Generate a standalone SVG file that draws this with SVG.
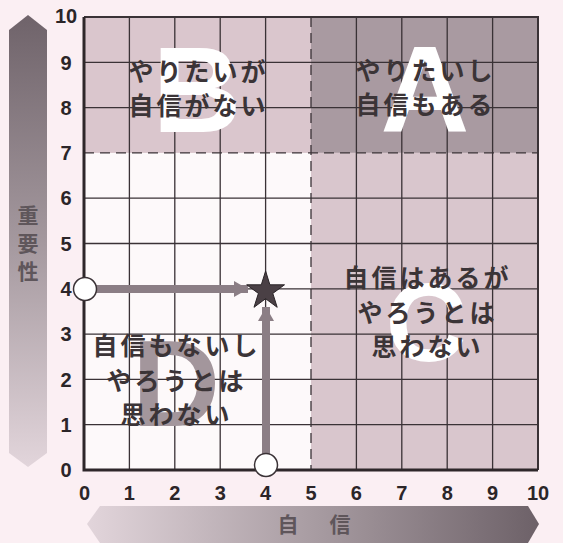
<svg xmlns="http://www.w3.org/2000/svg" width="563" height="543" viewBox="0 0 563 543">
<defs>
<linearGradient id="gv" x1="0" y1="0" x2="0" y2="1">
<stop offset="0" stop-color="#6f636a"/>
<stop offset="0.5" stop-color="#a4989e"/>
<stop offset="1" stop-color="#e2d5db"/>
</linearGradient>
<linearGradient id="gh" x1="0" y1="0" x2="1" y2="0">
<stop offset="0" stop-color="#e2d5db"/>
<stop offset="0.5" stop-color="#a89ca2"/>
<stop offset="1" stop-color="#6d6168"/>
</linearGradient>
<marker id="ah" markerUnits="userSpaceOnUse" markerWidth="16" markerHeight="18" refX="14" refY="9" orient="auto">
<path d="M0,1 L14,9 L0,17 Z" fill="#8b7e85"/>
</marker>
<style>
.grid{stroke:#3a3236;stroke-width:1.3;fill:none}
.dash{stroke:#3a3236;stroke-width:1.3;stroke-dasharray:10 6;fill:none}
.tick{font-family:"Liberation Sans",Arial,sans-serif;font-weight:bold;font-size:20px;fill:#2b2528;text-anchor:middle}
.big{font-family:"Liberation Sans",Arial,sans-serif;font-weight:bold;text-anchor:middle}
.jp{font-family:"Noto Sans CJK JP",sans-serif;font-weight:bold;font-size:25px;fill:#3b3437;text-anchor:middle;letter-spacing:3px}
.ax{font-family:"Noto Sans CJK JP",sans-serif;font-weight:bold;font-size:21px;fill:#5f565b;text-anchor:middle}
.conn{stroke:#8b7e85;stroke-width:8;fill:none}
</style>
</defs>
<rect width="563" height="543" fill="#fbeff3"/>

<g id="axis-importance">
<polygon points="9,30 28,15 47,30 47,453 28,467 9,453" fill="url(#gv)"/>
<text class="ax" x="28" y="223">重</text>
<text class="ax" x="28" y="251">要</text>
<text class="ax" x="28" y="279">性</text>
</g>
<g id="axis-confidence">
<polygon points="100,506 528,506 539,524 528,543 100,543 87,524" fill="url(#gh)"/>
<text class="ax" x="288" y="532">自</text>
<text class="ax" x="340" y="532">信</text>
</g>

<g id="quadrant-D">
<rect x="84" y="152.9" width="227" height="317.1" fill="#fdf9fa"/>
</g>
<g id="quadrant-B">
<rect x="84" y="17" width="227" height="135.9" fill="#dac6cd"/>
</g>
<g id="quadrant-A">
<rect x="311" y="17" width="227" height="135.9" fill="#a99aa1"/>
</g>
<g id="quadrant-C">
<rect x="311" y="152.9" width="227" height="317.1" fill="#d9c6cd"/>
</g>

<g id="grid">
<path class="grid" d="M129.4,17V470 M174.8,17V470 M220.2,17V470 M265.6,17V470 M356.4,17V470 M401.8,17V470 M447.2,17V470 M492.6,17V470"/>
<path class="grid" d="M84,424.7H538 M84,379.4H538 M84,334.1H538 M84,288.8H538 M84,243.5H538 M84,198.2H538 M84,107.6H538 M84,62.3H538"/>
<path class="dash" d="M84,152.9H538 M311,17V470"/>
<path d="M84,17H538V470" stroke="#3a3236" stroke-width="2" fill="none"/>
<path d="M84,17V470H538" stroke="#2e272a" stroke-width="3" fill="none"/>
</g>

<g id="letters">
<text class="big" x="197" y="132" font-size="123" fill="#ffffff">B</text>
<text class="big" x="425" y="132" font-size="123" fill="#ffffff">A</text>
<text class="big" x="426" y="361" font-size="112" fill="#ffffff">C</text>
<text class="big" x="176" y="426" font-size="122" fill="#a3969c">D</text>
</g>

<g id="label-B">
<text class="jp" x="198.5" y="81">やりたいが</text>
<text class="jp" x="198.5" y="115">自信がない</text>
</g>
<g id="label-A">
<text class="jp" x="425.5" y="80">やりたいし</text>
<text class="jp" x="425.5" y="114">自信もある</text>
</g>
<g id="label-C">
<text class="jp" x="427.5" y="287">自信はあるが</text>
<text class="jp" x="427.5" y="322">やろうとは</text>
<text class="jp" x="427.5" y="356">思わない</text>
</g>
<g id="label-D">
<text class="jp" x="176.5" y="355">自信もないし</text>
<text class="jp" x="176.5" y="390">やろうとは</text>
<text class="jp" x="176.5" y="424">思わない</text>
</g>

<g id="ticks">
<text class="tick" x="66" y="23">10</text>
<text class="tick" x="66" y="69.5">9</text>
<text class="tick" x="66" y="114.8">8</text>
<text class="tick" x="66" y="160.1">7</text>
<text class="tick" x="66" y="205.4">6</text>
<text class="tick" x="66" y="250.7">5</text>
<text class="tick" x="66" y="296">4</text>
<text class="tick" x="66" y="341.3">3</text>
<text class="tick" x="66" y="386.6">2</text>
<text class="tick" x="66" y="431.9">1</text>
<text class="tick" x="66" y="477.2">0</text>
<text class="tick" x="84.5" y="500">0</text>
<text class="tick" x="129.4" y="500">1</text>
<text class="tick" x="174.8" y="500">2</text>
<text class="tick" x="220.2" y="500">3</text>
<text class="tick" x="265.6" y="500">4</text>
<text class="tick" x="311" y="500">5</text>
<text class="tick" x="356.4" y="500">6</text>
<text class="tick" x="401.8" y="500">7</text>
<text class="tick" x="447.2" y="500">8</text>
<text class="tick" x="492.6" y="500">9</text>
<text class="tick" x="538" y="500">10</text>
</g>

<g id="connectors">
<line class="conn" x1="95" y1="289" x2="248" y2="289" marker-end="url(#ah)"/>
<line class="conn" x1="266" y1="455" x2="266" y2="307" marker-end="url(#ah)"/>
</g>

<g id="start-importance">
<circle cx="85" cy="289" r="11.5" fill="#ffffff" stroke="#3a3236" stroke-width="1.5"/>
</g>
<g id="start-confidence">
<circle cx="266" cy="465" r="11.5" fill="#ffffff" stroke="#3a3236" stroke-width="1.5"/>
</g>
<g id="star">
<polygon points="265.6,271 269.9,284.8 284.5,284.8 272.8,293.4 277.2,307.3 265.6,298.7 254,307.3 258.4,293.4 246.7,284.8 261.3,284.8" fill="#4a4045" stroke="#2a2427" stroke-width="1"/>
</g>
</svg>
